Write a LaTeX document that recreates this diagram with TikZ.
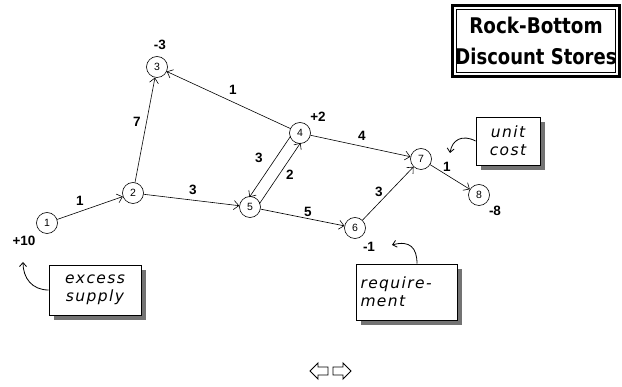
\documentclass[tikz,border=0pt]{standalone}
\usepackage{fontspec}
\setmainfont{Liberation Sans}
\newfontfamily\titlefont{DejaVu Sans}
\newfontfamily\annfont[LetterSpace=9]{DejaVu Sans}
\usetikzlibrary{arrows.meta,calc,shadows}
\begin{document}
\begin{tikzpicture}[x=1pt,y=-1pt,
  vtx/.style={circle,draw,line width=0.6pt,minimum size=21pt,inner sep=0pt,font=\fontsize{10.5}{10.5}\selectfont},
  elab/.style={font=\bfseries\fontsize{13.5}{13.5}\selectfont,inner sep=0pt},
  edge/.style={-{Straight Barb[length=5pt,width=9pt]},line width=0.6pt},
  cur/.style={-{Straight Barb[length=4pt,width=7pt]},line width=0.8pt},
  annbox/.style={draw,line width=0.8pt,fill=white,align=left,inner sep=0pt,
    font=\annfont\itshape\fontsize{15.5}{18}\selectfont,
    drop shadow={shadow xshift=5pt,shadow yshift=-5pt,fill=black!55,opacity=1}},
  ttl/.style={font=\titlefont\bfseries\fontsize{18}{22}\selectfont,inner sep=0pt},
  navarrow/.style={draw,line width=0.9pt,line join=miter}
]
\useasboundingbox[fill=white] (0,0) rectangle (622,387);

% title
\draw[line width=3pt] (452.5,5.5) rectangle (619.5,76.5);
\draw[line width=1pt] (456.5,9.5) rectangle (615.5,72.5);
\node[ttl] (title1) at (536,25) {\scalebox{1.02}[1.2]{Rock-Bottom}};
\node[ttl] (title2) at (536,56) {\scalebox{1.0}[1.2]{Discount Stores}};

% vertices
\node[vtx] (n1) at (47,223) {1};
\node[vtx] (n2) at (133,193) {2};
\node[vtx] (n3) at (157,67) {3};
\node[vtx] (n4) at (300,133) {4};
\node[vtx] (n5) at (250,207) {5};
\node[vtx] (n6) at (355,228) {6};
\node[vtx] (n7) at (421,159) {7};
\node[vtx] (n8) at (479,195) {8};

% supplies / demands
\node[elab] (s1) at (24,241) {+10};
\node[elab] (s3) at (160,45) {-3};
\node[elab] (s4) at (318,117) {+2};
\node[elab] (s6) at (369,247) {-1};
\node[elab] (s8) at (495,211) {-8};

% edges
\draw[edge] (n1) -- (n2);
\draw[edge] (n2) -- (n3);
\draw[edge] (n2) -- (n5);
\draw[edge] (n4) -- (n3);
\draw[edge] (n4) -- (n7);
\draw[edge] (n5) -- (n6);
\draw[edge] (n6) -- (n7);
\draw[edge] (n7) -- (n8);
\coordinate (a4) at ($(n4)+(-5,-3.3)$);
\coordinate (a5) at ($(n5)+(-5,-3.3)$);
\coordinate (b4) at ($(n4)+(5,3.3)$);
\coordinate (b5) at ($(n5)+(5,3.3)$);
\draw[edge,shorten <=8pt,shorten >=8pt] (a4) -- (a5);
\draw[edge,shorten <=8pt,shorten >=8pt] (b5) -- (b4);

% edge labels
\node[elab] (e12) at (80,201) {1};
\node[elab] (e23) at (137,122) {7};
\node[elab] (e25) at (193,190) {3};
\node[elab] (e43) at (233,90) {1};
\node[elab] (e47) at (362,136) {4};
\node[elab] (e45) at (259,158) {3};
\node[elab] (e54) at (290,175) {2};
\node[elab] (e56) at (308,212) {5};
\node[elab] (e67) at (379,192) {3};
\node[elab] (e78) at (447,167) {1};

% annotation boxes
\node[annbox,minimum width=92pt,minimum height=50pt,align=center] (es) at (95,290) {excess\\supply};
\node[annbox,minimum width=64pt,minimum height=48pt,align=center] (uc) at (508,141) {unit\\cost};
\node[annbox,minimum width=101pt,minimum height=56pt,text width=92pt] (rq) at (406.5,292) {require-\\ment};

\coordinate (t1) at (23,262);
\coordinate (t7) at (450,153);
\coordinate (t6) at (392,245);
\draw[cur] (es.west) .. controls (32,290) and (23,278) .. (t1);
\draw[cur] (uc.west) .. controls (462,134) and (452,140) .. (t7);
\draw[cur] (rq.north -| 417,0) .. controls (417,248) and (410,240) .. (t6);

% navigation arrows
\draw[navarrow] (310,371) -- (318,363) -- (318,367) -- (328,367) -- (328,375) -- (318,375) -- (318,379) -- cycle;
\draw[navarrow] (351,371) -- (343,363) -- (343,367) -- (333,367) -- (333,375) -- (343,375) -- (343,379) -- cycle;
\end{tikzpicture}
\end{document}
